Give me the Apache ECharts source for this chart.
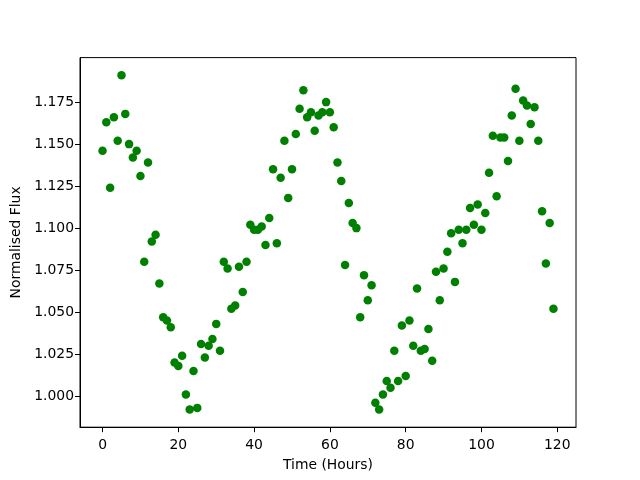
<html>
<head>
    <script src="https://cdn.jsdelivr.net/npm/echarts@6/dist/echarts.min.js"></script>
    <style>
        body { margin: 0; }
        #main { width: 640px; height: 480px; }
    </style>
</head>
<body>
    <div id="main"></div>
    <script>
        // hours 0..119
        var hours = [];
        for (var i = 0; i < 120; i++) hours.push(i);

        var flux = [
            1.146, 1.163, 1.124, 1.166, 1.152, 1.191, 1.168, 1.150, 1.142, 1.146,
            1.131, 1.080, 1.139, 1.092, 1.096, 1.067, 1.047, 1.045, 1.041, 1.020,
            1.018, 1.024, 1.001, 0.992, 1.015, 0.993, 1.031, 1.023, 1.030, 1.034,
            1.043, 1.027, 1.080, 1.076, 1.052, 1.054, 1.077, 1.062, 1.080, 1.102,
            1.099, 1.099, 1.101, 1.090, 1.106, 1.135, 1.091, 1.130, 1.152, 1.118,
            1.135, 1.156, 1.171, 1.182, 1.166, 1.169, 1.158, 1.167, 1.169, 1.175,
            1.169, 1.160, 1.139, 1.128, 1.078, 1.115, 1.103, 1.100, 1.047, 1.072,
            1.057, 1.066, 0.996, 0.992, 1.001, 1.009, 1.005, 1.027, 1.009, 1.042,
            1.012, 1.045, 1.030, 1.064, 1.027, 1.028, 1.040, 1.021, 1.074, 1.057,
            1.076, 1.086, 1.097, 1.068, 1.099, 1.091, 1.099, 1.112, 1.102, 1.114,
            1.099, 1.109, 1.133, 1.155, 1.119, 1.154, 1.154, 1.140, 1.167, 1.183,
            1.152, 1.176, 1.173, 1.162, 1.172, 1.152, 1.110, 1.079, 1.103, 1.052
        ];

        var xTicks = [0, 20, 40, 60, 80, 100, 120];
        var yTicks = [1.000, 1.025, 1.050, 1.075, 1.100, 1.125, 1.150, 1.175];

        var points = hours.map(function (h, k) { return [h, flux[k]]; });

        var myChart = echarts.init(document.getElementById('main'));
        var font = 'DejaVu Sans';
        var option = {
            animation: false,
            grid: {
                left: 80,
                right: 64,
                top: 57.6,
                bottom: 52.8,
                containLabel: false,
                outerBoundsMode: 'none',
                show: true,
                borderColor: '#000',
                borderWidth: 1
            },
            xAxis: {
                type: 'value',
                min: -5.95,
                max: 124.95,
                name: 'Time (Hours)',
                nameLocation: 'middle',
                nameGap: 24,
                nameMoveOverlap: false,
                nameTextStyle: { color: '#000', fontSize: 13.9, fontFamily: font },
                axisLine: { show: true, onZero: false, lineStyle: { color: '#000', width: 1 } },
                axisTick: {
                    show: true, inside: false, length: 5,
                    lineStyle: { color: '#000' },
                    customValues: xTicks
                },
                axisLabel: {
                    color: '#000', fontSize: 13.9, fontFamily: font, margin: 4,
                    customValues: xTicks
                },
                splitLine: { show: false }
            },
            yAxis: {
                type: 'value',
                min: 0.9815,
                max: 1.2015,
                name: 'Normalised Flux',
                nameLocation: 'middle',
                nameGap: 50,
                nameMoveOverlap: false,
                nameTextStyle: { color: '#000', fontSize: 13.9, fontFamily: font },
                axisLine: { show: true, onZero: false, lineStyle: { color: '#000', width: 1 } },
                axisTick: {
                    show: true, inside: false, length: 5,
                    lineStyle: { color: '#000' },
                    customValues: yTicks
                },
                axisLabel: {
                    color: '#000', fontSize: 13.9, fontFamily: font, margin: 6,
                    customValues: yTicks,
                    formatter: function (v) { return v.toFixed(3); }
                },
                splitLine: { show: false }
            },
            series: [{
                type: 'scatter',
                data: points,
                symbolSize: 8.5,
                itemStyle: { color: '#008000', opacity: 1 }
            }]
        };
        myChart.setOption(option);
    </script>
</body>
</html>
